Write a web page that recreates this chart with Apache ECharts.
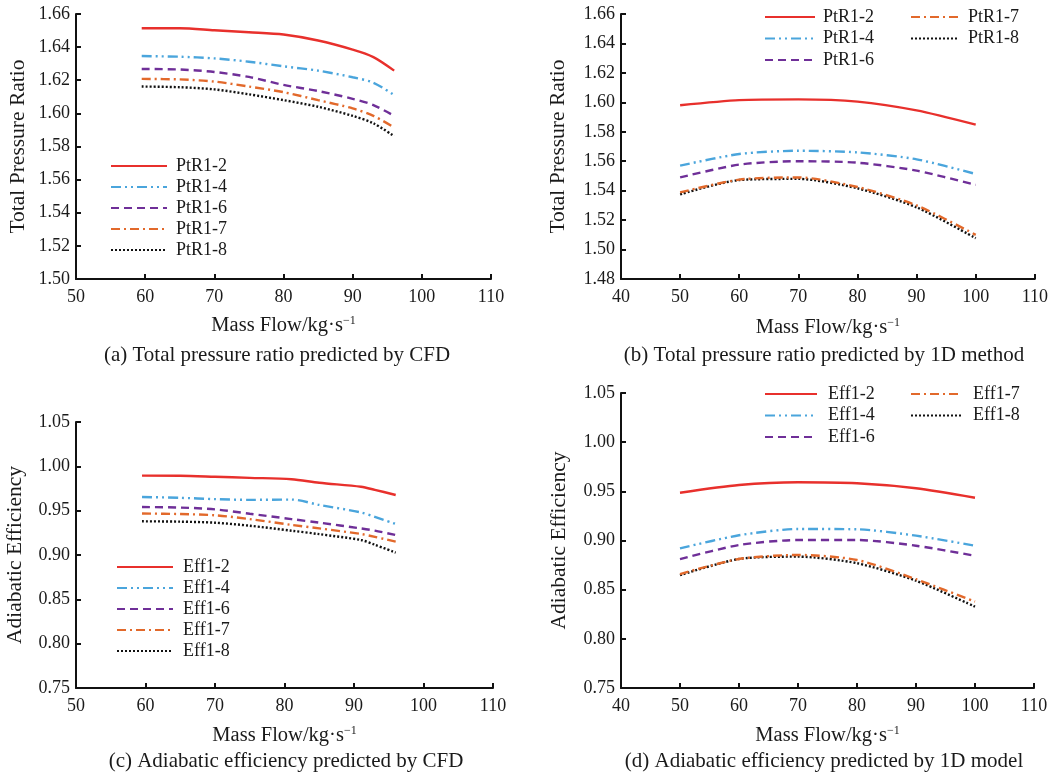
<!DOCTYPE html>
<html><head><meta charset="utf-8">
<script src="https://cdn.jsdelivr.net/npm/echarts@6/dist/echarts.min.js"></script>
<style>html,body{margin:0;padding:0;background:#fff}#c{width:1051px;height:778px}</style>
</head><body><div id="c"></div>
<script>
// ---- data ----
const xA = [59.5, 65, 70, 75, 80, 85, 90, 93, 96];
const ptA2 = [1.6514, 1.6514, 1.6502, 1.6490, 1.6476, 1.6440, 1.6385, 1.6340, 1.6258];
const ptA4 = [1.6346, 1.6342, 1.6332, 1.6312, 1.6284, 1.6258, 1.6218, 1.6185, 1.6110];
const ptA6 = [1.6268, 1.6265, 1.6250, 1.6220, 1.6172, 1.6135, 1.6088, 1.6050, 1.5985];
const ptA7 = [1.6208, 1.6205, 1.6192, 1.6162, 1.6128, 1.6080, 1.6030, 1.5985, 1.5915];
const ptA8 = [1.6162, 1.6158, 1.6145, 1.6115, 1.6080, 1.6040, 1.5985, 1.5940, 1.5862];

const xB = [50, 60, 70, 80, 90, 100];
const ptB2 = [1.5980, 1.6015, 1.6020, 1.6005, 1.5945, 1.5848];
const ptB4 = [1.5570, 1.5649, 1.5671, 1.5660, 1.5613, 1.5513];
const ptB6 = [1.5490, 1.5577, 1.5600, 1.5590, 1.5536, 1.5439];
const ptB7 = [1.5388, 1.5475, 1.5490, 1.5425, 1.5300, 1.5100];
const ptB8 = [1.5375, 1.5472, 1.5480, 1.5416, 1.5287, 1.5077];

const xC = [59.5, 65, 70, 75, 81, 85, 91, 93, 96];
const efC2 = [0.9895, 0.9893, 0.9882, 0.9870, 0.9855, 0.9815, 0.9770, 0.9735, 0.9677];
const efC4 = [0.9654, 0.9645, 0.9630, 0.9622, 0.9625, 0.9565, 0.9480, 0.9430, 0.9350];
const efC6 = [0.9541, 0.9535, 0.9515, 0.9465, 0.9405, 0.9365, 0.9300, 0.9275, 0.9225];
const efC7 = [0.9468, 0.9462, 0.9448, 0.9405, 0.9340, 0.9300, 0.9237, 0.9205, 0.9150];
const efC8 = [0.9380, 0.9376, 0.9364, 0.9330, 0.9274, 0.9235, 0.9169, 0.9116, 0.9026];

const xD = [50, 60, 70, 80, 90, 100];
const efD2 = [0.9486, 0.9564, 0.9592, 0.9582, 0.9531, 0.9435];
const efD4 = [0.8920, 0.9053, 0.9117, 0.9114, 0.9049, 0.8947];
const efD6 = [0.8810, 0.8954, 0.9005, 0.9005, 0.8947, 0.8845];
const efD7 = [0.8659, 0.8812, 0.8853, 0.8802, 0.8606, 0.8378];
const efD8 = [0.8648, 0.8812, 0.8836, 0.8769, 0.8591, 0.8327];

const namesPt = ['PtR1-2', 'PtR1-4', 'PtR1-6', 'PtR1-7', 'PtR1-8'];
const namesEf = ['Eff1-2', 'Eff1-4', 'Eff1-6', 'Eff1-7', 'Eff1-8'];
const captions = ['(a) Total pressure ratio predicted by CFD', '(b) Total pressure ratio predicted by 1D method',
  '(c) Adiabatic efficiency predicted by CFD', '(d) Adiabatic efficiency predicted by 1D model'];

// ---- styles ----
const FONT = '"Liberation Serif", "Times New Roman", serif';
const TXT = '#1a1a1a';
const lineStyles = [
  {color: '#e8302c', type: 'solid'},
  {color: '#4aa5dc', type: [10, 4, 2, 4, 2, 4]},
  {color: '#6f2f98', type: [8, 5]},
  {color: '#e2692b', type: [9, 4, 2, 4]},
  {color: '#111111', type: [2, 2]}
];

const grids = [
  {left: 76, top: 14, width: 415, height: 265},
  {left: 621, top: 14, width: 416, height: 265},
  {left: 76, top: 422, width: 417, height: 266},
  {left: 621, top: 393, width: 413, height: 295}
];
const xRanges = [[50, 110], [40, 110], [50, 110], [40, 110]];
const yRanges = [[1.50, 1.66, 0.02], [1.48, 1.66, 0.02], [0.75, 1.05, 0.05], [0.75, 1.05, 0.05]];
const yNames = ['Total Pressure Ratio', 'Total Pressure Ratio', 'Adiabatic Efficiency', 'Adiabatic Efficiency'];
const yGaps = [47, 52, 50, 51];
const xGaps = [36, 38, 37, 37];

const axisLine = {show: true, lineStyle: {color: '#111', width: 2}};
const axisTick = {show: true, inside: true, length: 5, lineStyle: {color: '#111', width: 2}};

const xAxes = xRanges.map((r, i) => ({
  type: 'value', gridIndex: i, min: r[0], max: r[1], interval: 10,
  axisLine, axisTick, splitLine: {show: false},
  axisLabel: {fontFamily: FONT, fontSize: 18, color: TXT, margin: 9},
  name: 'Mass Flow/kg·s{sup|−1}', nameLocation: 'middle', nameGap: xGaps[i],
  nameTextStyle: {fontFamily: FONT, fontSize: 20.5, color: TXT,
    rich: {sup: {fontFamily: FONT, fontSize: 12, color: TXT, verticalAlign: 'top', padding: [0, 0, 9, 0]}}}
}));
const yAxes = yRanges.map((r, i) => ({
  type: 'value', gridIndex: i, min: r[0], max: r[1], interval: r[2],
  axisLine, axisTick, splitLine: {show: false},
  axisLabel: {fontFamily: FONT, fontSize: 18, color: TXT, margin: 6, formatter: v => v.toFixed(2)},
  name: yNames[i], nameLocation: 'middle', nameGap: yGaps[i],
  nameTextStyle: {fontFamily: FONT, fontSize: 21.5, color: TXT}
}));

const panels = [
  {x: xA, ys: [ptA2, ptA4, ptA6, ptA7, ptA8], names: namesPt, smooth: 0.3},
  {x: xB, ys: [ptB2, ptB4, ptB6, ptB7, ptB8], names: namesPt, smooth: 0.25},
  {x: xC, ys: [efC2, efC4, efC6, efC7, efC8], names: namesEf, smooth: 0.3},
  {x: xD, ys: [efD2, efD4, efD6, efD7, efD8], names: namesEf, smooth: 0.25}
];
const series = [];
panels.forEach((p, gi) => {
  p.ys.forEach((y, si) => {
    series.push({
      type: 'line', name: p.names[si], xAxisIndex: gi, yAxisIndex: gi,
      data: p.x.map((xv, k) => [xv, y[k]]),
      smooth: p.smooth, symbol: 'none', showSymbol: false,
      lineStyle: Object.assign({width: 2.4}, lineStyles[si]),
      itemStyle: {color: lineStyles[si].color},
      z: 10 - si
    });
  });
});

function leg(left, top, iw, pad, gap, data) {
  return {
    orient: 'vertical', left, top, padding: 0, itemWidth: iw, itemHeight: 14, itemGap: gap,
    selectedMode: false, data,
    itemStyle: {opacity: 0, borderWidth: 0},
    textStyle: {fontFamily: FONT, fontSize: 18, color: TXT, padding: [0, 0, 0, pad]}
  };
}
const legends = [
  leg(110, 157, 56, 4, 3, namesPt),
  leg(764, 8, 50, 3, 3.5, namesPt.slice(0, 3)),
  leg(910, 8, 48, 4, 3.5, namesPt.slice(3)),
  leg(116, 558, 56, 5, 3, namesEf),
  leg(764, 385, 52, 6, 3.5, namesEf.slice(0, 3)),
  leg(910, 385, 50, 7, 3.5, namesEf.slice(3))
];

const capPos = [[277, 345], [824, 345], [286, 751], [824, 751]];
const titles = captions.map((t, i) => ({
  text: t, left: capPos[i][0], top: capPos[i][1], textAlign: 'center', padding: 0,
  textStyle: {fontFamily: FONT, fontSize: 21, fontWeight: 'normal', color: TXT}
}));

const chart = echarts.init(document.getElementById('c'));
chart.setOption({
  backgroundColor: '#ffffff', animation: false,
  title: titles, grid: grids, xAxis: xAxes, yAxis: yAxes, legend: legends, series
});
</script></body></html>
